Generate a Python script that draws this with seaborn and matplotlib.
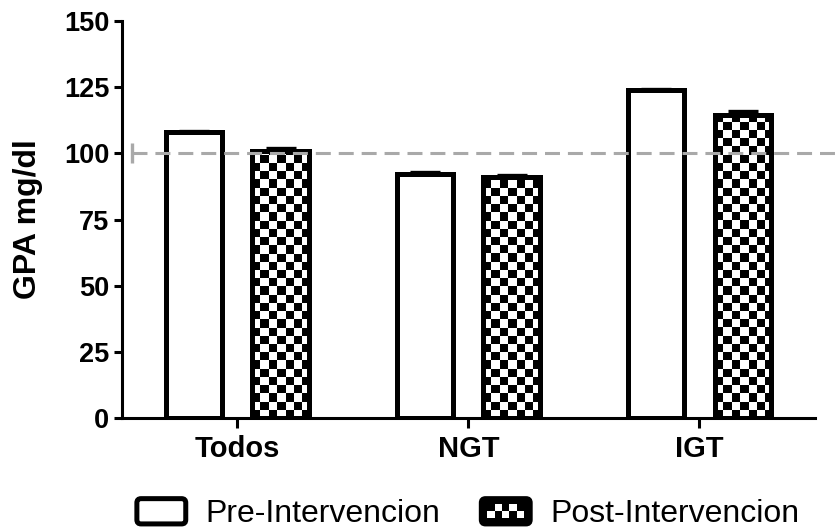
import numpy as np
import pandas as pd
import matplotlib
matplotlib.use("Agg")
import matplotlib.pyplot as plt
from matplotlib.patches import FancyBboxPatch, Rectangle, Patch
import seaborn as sns

# ---- data -------------------------------------------------------------
categories = ["Todos", "NGT", "IGT"]
phases = ["Pre-Intervencion", "Post-Intervencion"]
pre_values = [107.9, 92.3, 123.8]
post_values = [101.0, 91.2, 114.5]
pre_err = [0.6, 0.5, 0.6]
post_err = [1.0, 0.6, 1.4]
reference_level = 100
y_ticks = [0, 25, 50, 75, 100, 125, 150]

df = pd.DataFrame({
    "grupo": categories * 2,
    "fase": [phases[0]] * 3 + [phases[1]] * 3,
    "gpa": pre_values + post_values,
})

# ---- style ------------------------------------------------------------
sns.set_style("ticks")
plt.rcParams["font.family"] = ["Liberation Sans", "DejaVu Sans"]
plt.rcParams["text.color"] = "black"
plt.rcParams["axes.labelcolor"] = "black"

fig = plt.figure(figsize=(8.39, 5.31), dpi=100)
ax = fig.add_axes([0.145, 0.2122, 0.8264, 0.7488])

EDGE_LW = 3.6
sns.barplot(data=df, x="grupo", y="gpa", hue="fase", order=categories,
            hue_order=phases, palette=["white", "white"], edgecolor="black",
            linewidth=EDGE_LW, width=0.75, gap=0.35, errorbar=None,
            legend=False, ax=ax)

ax.set_xlim(-0.5, 2.5)
ax.set_ylim(0, 150)

# checkerboard fill for the post-intervention bars
cell_x, cell_y = 0.036, 3.1
post_bars = list(ax.containers[1])
for p in post_bars:
    x0, w, h = p.get_x(), p.get_width(), p.get_height()
    nx = int(np.ceil(w / cell_x)) + 1
    ny = int(np.ceil(h / cell_y)) + 1
    board = np.add.outer(np.arange(ny), np.arange(nx)) % 2
    im = ax.imshow(board, cmap="gray", vmin=0, vmax=1, origin="lower",
                   extent=(x0, x0 + nx * cell_x, 0, ny * cell_y),
                   interpolation="nearest", aspect="auto", zorder=2)
    im.set_clip_path(p)
    p.set_facecolor("none")
    p.set_zorder(3)
for p in ax.containers[0]:
    p.set_zorder(3)

ax.set_xlim(-0.5, 2.5)
ax.set_ylim(0, 150)

# one-sided error bars
for bars, errs in ((ax.containers[0], pre_err), (ax.containers[1], post_err)):
    xs = [b.get_x() + b.get_width() / 2 for b in bars]
    hs = [b.get_height() for b in bars]
    ax.errorbar(xs, hs, yerr=[np.zeros(len(errs)), errs], fmt="none",
                ecolor="black", elinewidth=2.2, capsize=10.8, capthick=2.4,
                zorder=4)

# dashed reference line at 100 mg/dl
ref, = ax.plot([-0.457, 2.62], [reference_level, reference_level],
               color="#a9a9a9", lw=2.2, clip_on=False, zorder=5,
               marker="|", markevery=[0], markersize=15, mew=2.4)
ref.set_dashes((4.9, 2.6))

# axes styling
sns.despine(ax=ax)
for s in ("left", "bottom"):
    ax.spines[s].set_linewidth(2.2)
    ax.spines[s].set_color("black")
ax.set_yticks(y_ticks)
ax.tick_params(axis="y", length=5.8, width=2.2, labelsize=19.5, pad=3,
               colors="black")
ax.tick_params(axis="x", length=7, width=2.2, labelsize=21, pad=5,
               colors="black")
for t in ax.get_yticklabels() + ax.get_xticklabels():
    t.set_fontweight("bold")
ax.set_xlabel("")
ax.set_ylabel("GPA mg/dl", fontsize=23, fontweight="bold", color="black")
ax.yaxis.set_label_coords(-0.113, 0.5)


# legend with framed swatches
class FramedHandler:
    def __init__(self, checker):
        self.checker = checker

    def legend_artist(self, legend, orig_handle, fontsize, handlebox):
        x0, y0 = handlebox.xdescent, handlebox.ydescent
        w, h = handlebox.width, handlebox.height
        tr = handlebox.get_transform()
        box = FancyBboxPatch((-x0, -y0), w, h,
                             boxstyle="round,pad=0,rounding_size=3",
                             facecolor="black" if self.checker else "white",
                             edgecolor="black", lw=3.6, transform=tr)
        handlebox.add_artist(box)
        if self.checker:
            cols, rows = 5, 2
            mx, my = w * 0.12, h * 0.22
            cw, ch = (w - 2 * mx) / cols, (h - 2 * my) / rows
            for r in range(rows):
                for c in range(cols):
                    if (r + c) % 2 == 0:
                        sq = Rectangle((-x0 + mx + c * cw, -y0 + my + r * ch),
                                       cw, ch, facecolor="white",
                                       edgecolor="none", transform=tr)
                        handlebox.add_artist(sq)
        return box


h_pre = Patch(label=phases[0])
h_post = Patch(label=phases[1])
leg = fig.legend(handles=[h_pre, h_post], labels=phases, ncol=2,
                 loc="center", bbox_to_anchor=(468 / 839, 1 - 514 / 531),
                 frameon=False, fontsize=23, handlelength=1.53,
                 handleheight=0.84, handletextpad=0.62, columnspacing=1.28,
                 borderpad=0, borderaxespad=0,
                 handler_map={h_pre: FramedHandler(False),
                              h_post: FramedHandler(True)})

fig.savefig("out.png", dpi=100)
